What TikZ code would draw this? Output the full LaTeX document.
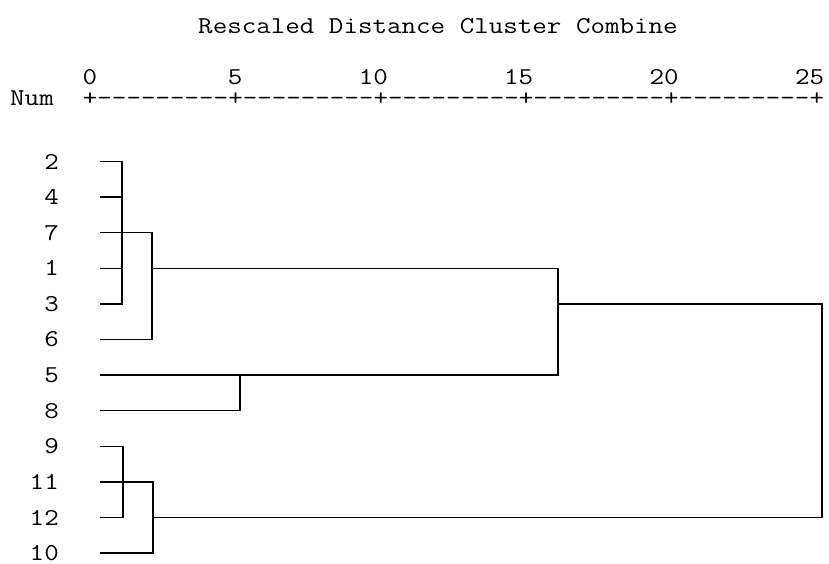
\documentclass[tikz,border=0pt]{standalone}
\usepackage{fontspec}
\setmonofont{Latin Modern Mono}[FakeStretch=1.166]
\begin{document}
\begin{tikzpicture}[x=1pt,y=-1pt,
  font=\ttfamily\fontsize{24.2}{29}\selectfont,
  every node/.style={inner sep=0pt},
  link/.style={line width=1.5pt}]
\useasboundingbox (0,0) rectangle (829,563);
% heading and distance scale
\node[anchor=base] (title) at (438,33) {Rescaled Distance Cluster Combine};
\foreach \v in {0,5,...,25}
  \node[anchor=base east] (t\v) at ({97.27+29.08*\v},84) {\v};
\node[anchor=base west] (num) at (10,105) {Num};
\node[anchor=base west] (axis) at (82.73,105) {+---------+---------+---------+---------+---------+};
% case labels and leaf ends
\foreach \lab [count=\i from 0] in {2,4,7,1,3,6,5,8,9,11,12,10}{
  \node[anchor=east] (n\lab) at (59,{161.5+35.6*\i}) {\lab};
  \coordinate (l\lab) at (100,{161.5+35.6*\i});
}
% merge levels
\coordinate (a) at (122,0);
\coordinate (b) at (152,0);
\coordinate (c) at (240,0);
\coordinate (d) at (558,0);
\coordinate (e) at (123,0);
\coordinate (f) at (153,0);
\coordinate (g) at (822,0);
\draw[link] (l2) -- (a |- l2) -- (a |- l3) -- (l3);
\draw[link] (l4) -- (a |- l4);
\draw[link] (l1) -- (a |- l1);
\draw[link] (l7) -- (b |- l7) -- (b |- l6) -- (l6);
\draw[link] (b |- l1) -- (d |- l1) -- (d |- l5) -- (l5);
\draw[link] (l8) -- (c |- l8) -- (c |- l5);
\draw[link] (l9) -- (e |- l9) -- (e |- l12) -- (l12);
\draw[link] (l11) -- (f |- l11) -- (f |- l10) -- (l10);
\draw[link] (f |- l12) -- (g |- l12) -- (g |- l3) -- (d |- l3);
\end{tikzpicture}
\end{document}
